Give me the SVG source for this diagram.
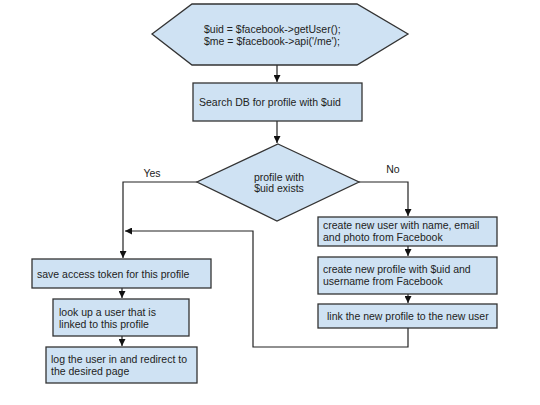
<svg xmlns="http://www.w3.org/2000/svg" width="540" height="405" viewBox="0 0 540 405">
<defs>
<style>
.n{fill:#cfe2f3;stroke:#333;stroke-width:1.3}
.t{font-family:"Liberation Sans",Arial,sans-serif;font-size:10.5px;fill:#222}
.c{fill:none;stroke:#222;stroke-width:1.2}
</style>
<marker id="a" viewBox="0 0 10 10" refX="10" refY="5" markerWidth="7" markerHeight="7" markerUnits="userSpaceOnUse" orient="auto"><path d="M0,0L10,5L0,10z" fill="#111"/></marker>
</defs>
<rect width="540" height="405" fill="#fff"/>
<g id="connectors">
<path class="c" d="M277,65V82" marker-end="url(#a)"/>
<path class="c" d="M277,121V143" marker-end="url(#a)"/>
<path class="c" d="M197,182H123V258" marker-end="url(#a)"/>
<path class="c" d="M359,182H408V216" marker-end="url(#a)"/>
<path class="c" d="M408,246V256" marker-end="url(#a)"/>
<path class="c" d="M408,294V303" marker-end="url(#a)"/>
<path class="c" d="M408,328V347H253V231H125" marker-end="url(#a)"/>
<path class="c" d="M122,288V298" marker-end="url(#a)"/>
<path class="c" d="M122,336V346" marker-end="url(#a)"/>
</g>
<g id="start">
<polygon class="n" points="152,34 192,4 357,4 408,34 357,65 192,65"/>
<text class="t" x="204" y="33">$uid = $facebook-&gt;getUser();</text>
<text class="t" x="204" y="45">$me = $facebook-&gt;api('/me');</text>
</g>
<g id="search">
<rect class="n" x="193" y="83" width="169" height="38"/>
<text class="t" x="199" y="106">Search DB for profile with $uid</text>
</g>
<g id="decision">
<polygon class="n" points="278,144 359,182 277,221 197,182"/>
<text class="t" x="279" y="181" text-anchor="middle">profile with</text>
<text class="t" x="279" y="192" text-anchor="middle">$uid exists</text>
</g>
<text class="t" x="152" y="177" text-anchor="middle">Yes</text>
<text class="t" x="393" y="173" text-anchor="middle">No</text>
<g id="createUser">
<rect class="n" x="318" y="217" width="179" height="29"/>
<text class="t" x="323" y="229">create new user with name, email</text>
<text class="t" x="323" y="241">and photo from Facebook</text>
</g>
<g id="createProfile">
<rect class="n" x="318" y="257" width="179" height="37"/>
<text class="t" x="323" y="273">create new profile with $uid and</text>
<text class="t" x="323" y="285">username from Facebook</text>
</g>
<g id="link">
<rect class="n" x="318" y="304" width="179" height="24"/>
<text class="t" x="327" y="320">link the new profile to the new user</text>
</g>
<g id="saveToken">
<rect class="n" x="32" y="259" width="179" height="29"/>
<text class="t" x="37" y="278">save access token for this profile</text>
</g>
<g id="lookup">
<rect class="n" x="53" y="299" width="136" height="37"/>
<text class="t" x="59" y="316">look up a user that is</text>
<text class="t" x="59" y="328">linked to this profile</text>
</g>
<g id="login">
<rect class="n" x="46" y="347" width="151" height="36"/>
<text class="t" x="51" y="363">log the user in and redirect to</text>
<text class="t" x="51" y="375">the desired page</text>
</g>
</svg>
